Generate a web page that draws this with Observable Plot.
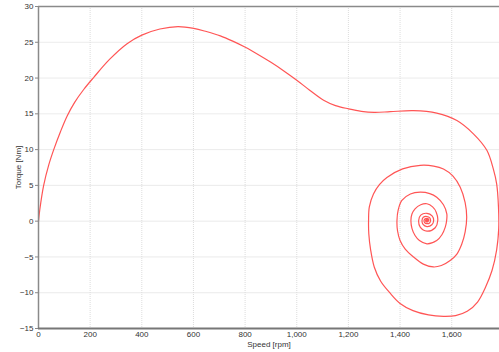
<!DOCTYPE html>
<html>
<head>
<meta charset="utf-8">
<script src="https://cdn.jsdelivr.net/npm/d3@7"></script>
<script src="https://cdn.jsdelivr.net/npm/@observablehq/plot@0.6"></script>
<style>
  html, body { margin: 0; padding: 0; background: #fff; }
  #chart { width: 499px; height: 352px; overflow: hidden; }
</style>
</head>
<body>
<div id="chart"></div>
<script>
// Speed (rpm) and torque (Nm), in drawing order
const speedRpm = [
  0, 5, 20, 40, 59, 85, 111, 140, 175, 214,
  275, 343, 400, 470, 540, 601, 650, 704, 750, 801,
  850, 900, 950, 1000, 1050, 1104, 1150, 1200, 1250, 1300,
  1362, 1452, 1542, 1620, 1684, 1736,
  1761, 1774, 1781, 1782, 1774, 1756, 1730, 1700, 1660, 1615,
  1568, 1510, 1450, 1400, 1360, 1325, 1300, 1286, 1279, 1278,
  1281, 1297, 1320, 1349, 1410, 1478, 1530, 1568, 1605, 1633,
  1652, 1658, 1652, 1639, 1620, 1594, 1560, 1529, 1490, 1452,
  1420, 1400, 1390, 1388, 1393, 1407, 1440, 1478, 1515, 1542,
  1568, 1581, 1580, 1575, 1562, 1542, 1504, 1475, 1458, 1446,
  1442, 1446, 1458, 1480, 1504, 1526, 1540, 1546, 1536, 1504,
  1478, 1472, 1480, 1504, 1524, 1530, 1523, 1504, 1489, 1485,
  1490, 1504, 1515, 1518, 1514, 1504, 1495, 1493, 1496, 1504,
  1510, 1511, 1508, 1504, 1499, 1499, 1504, 1507, 1504, 1502,
  1504, 1503
];
const torqueNm = [
  0, 1.6, 5, 7.9, 10, 12.5, 14.7, 16.6, 18.4, 20.1,
  22.6, 24.8, 26.0, 26.85, 27.2, 26.95, 26.5, 25.9, 25.2, 24.3,
  23.3, 22.2, 21.0, 19.7, 18.3, 16.9, 16.15, 15.7, 15.35, 15.2,
  15.3, 15.45, 15.1, 14.06, 12.2, 9.9,
  7.3, 5.2, 2.0, -1.0, -4.0, -6.9, -9.3, -11.3, -12.6, -13.2,
  -13.3, -13.1, -12.5, -11.5, -10.0, -8.4, -6.4, -4.0, -1.8, 0.1,
  2.0, 3.8, 5.1, 6.1, 7.3, 7.8, 7.7, 7.3, 6.3, 4.75,
  2.6, 0.56, -1.5, -3.2, -4.6, -5.5, -6.2, -6.4, -6.0, -5.0,
  -3.9, -2.7, -1.3, 0.1, 1.6, 2.9, 3.8, 4.05, 3.85, 3.35,
  2.3, 1.03, 0.0, -0.84, -1.9, -2.7, -3.16, -2.7, -2.0, -1.0,
  0.1, 1.0, 1.73, 2.3, 2.43, 2.0, 1.26, 0.1, -0.92, -1.4,
  -0.84, 0.1, 0.85, 1.1, 0.75, 0.1, -0.5, -0.75, -0.45, 0.1,
  0.55, 0.65, 0.45, 0.1, -0.25, -0.35, -0.2, 0.1, 0.3, 0.38,
  0.3, 0.1, -0.05, -0.12, 0, 0.1, 0.22, 0.1, 0.0, 0.1,
  0.15, 0.1
];
const xTicks = [0, 200, 400, 600, 800, 1000, 1200, 1400, 1600];
const yTicks = [-15, -10, -5, 0, 5, 10, 15, 20, 25, 30];
const xLabel = "Speed [rpm]";
const yLabel = "Torque [Nm]";

const data = speedRpm.map((s, i) => ({speed: s, torque: torqueNm[i]}));
const narrow = "'Liberation Sans Narrow', 'Arial Narrow', 'Liberation Sans', sans-serif";
const regular = "'Liberation Sans', Arial, sans-serif";

const chart = Plot.plot({
  width: 499,
  height: 352,
  marginLeft: 38,
  marginRight: 0,
  marginTop: 6,
  marginBottom: 24,
  style: {fontFamily: narrow, fontSize: "8px", color: "#333", background: "#fff"},
  x: {domain: [0, 1785]},
  y: {domain: [-15, 30]},
  marks: [
    Plot.gridX(xTicks, {stroke: "#bbb", strokeOpacity: 0.5, strokeDasharray: "1,1"}),
    Plot.gridY(yTicks, {stroke: "#ddd", strokeOpacity: 0.6}),
    Plot.axisX(xTicks, {tickSize: 0, tickPadding: 3, tickFormat: d3.format(","), label: null, fill: "#333"}),
    Plot.axisY(yTicks, {tickSize: 3, tickPadding: 2, label: null, stroke: "#888", fill: "#333"}),
    Plot.line(data, {x: "speed", y: "torque", stroke: "#ff5555", strokeWidth: 1.2, curve: "catmull-rom"}),
    Plot.ruleY([30], {stroke: "#8a8a8a", strokeWidth: 1.5}),
    Plot.ruleX([0], {stroke: "#8a8a8a", strokeWidth: 1.5}),
    Plot.ruleY([-15], {stroke: "#777", strokeWidth: 2}),
    Plot.text([xLabel], {text: d => d, frameAnchor: "bottom", lineAnchor: "middle", textAnchor: "middle", dy: 16, fill: "#333"}),
    Plot.text([yLabel], {text: d => d, frameAnchor: "left", textAnchor: "middle", lineAnchor: "middle", dx: -20, rotate: -90, fill: "#333", fontFamily: regular})
  ]
});
document.getElementById("chart").appendChild(chart);
</script>
</body>
</html>
